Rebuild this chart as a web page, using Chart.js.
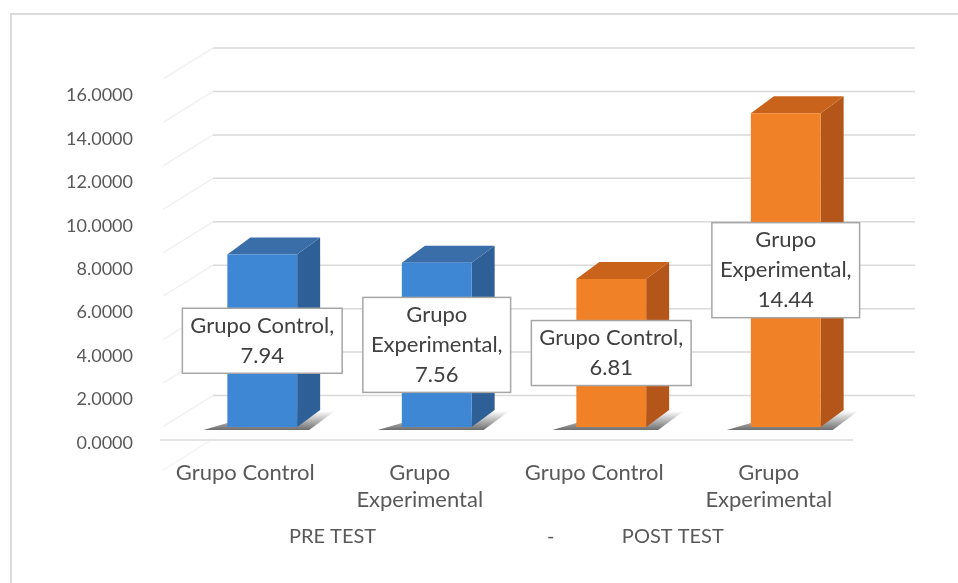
<!DOCTYPE html>
<html>
<head>
<meta charset="utf-8">
<script src="https://cdn.jsdelivr.net/npm/chart.js@4.4.1/dist/chart.umd.min.js"></script>
<style>
  html, body { margin: 0; padding: 0; background: #fff; }
  #wrap { position: relative; width: 958px; height: 583px; overflow: hidden; }
  #frame { position: absolute; left: 10px; top: 13px; width: 1000px; height: 1000px;
           border: 2px solid #dadada; box-sizing: border-box; }
  canvas { position: absolute; left: 0; top: 0; }
</style>
</head>
<body>
<div id="wrap">
  <div id="frame"></div>
  <canvas id="myChart" width="958" height="583"></canvas>
</div>
<script>
// data
const categories = [["Grupo Control"], ["Grupo", "Experimental"], ["Grupo Control"], ["Grupo", "Experimental"]];
const values = [7.94, 7.56, 6.81, 14.44];
const groupLabels = ["PRE TEST", "-", "POST TEST"];
const groupCenters = [0.5, 1.75, 2.45]; // in category units
const yMin = 0;
const yMax = 18;
const yStep = 2;

// colours of the 3d faces
const frontColors = ["#3d87d4", "#3d87d4", "#f08127", "#f08127"];
const topColors = ["#3a6ea9", "#3a6ea9", "#c9631b", "#c9631b"];
const sideColors = ["#2f5f97", "#2f5f97", "#b4561a", "#b4561a"];

const FONT = "Lato, 'Open Sans', sans-serif";
const TEXT = "#595959";

// bar depth and back wall offset
const barDepth = { dx: 23, dy: -17 };
const wallShift = { left: 38, right: 42, down: 12 };

const wallPlugin = {
  id: "wall",
  beforeDatasetsDraw(chart) {
    const ctx = chart.ctx;
    const y = chart.scales.y;
    const area = chart.chartArea;
    const x0 = area.left + wallShift.left;
    const x1 = area.right + wallShift.right;
    ctx.save();
    for (let v = yMin; v <= yMax; v += yStep) {
      const py = y.getPixelForValue(v) + wallShift.down;
      // side wall line
      ctx.strokeStyle = v === yMin ? "#f5f5f5" : "#f1f1f1";
      ctx.lineWidth = 1.5;
      ctx.beginPath();
      ctx.moveTo(x0, py);
      ctx.lineTo(x0 - 50, py + 31);
      ctx.stroke();
      if (v === yMin) continue;
      ctx.strokeStyle = "#d9d9d9";
      ctx.lineWidth = 1.5;
      ctx.beginPath();
      ctx.moveTo(x0, py);
      ctx.lineTo(x1, py);
      ctx.stroke();
    }
    // floor front edge
    const fy = y.getPixelForValue(yMin) + 13;
    ctx.strokeStyle = "#e4e4e4";
    ctx.lineWidth = 2;
    ctx.beginPath();
    ctx.moveTo(area.left - 15, fy);
    ctx.lineTo(area.right - 20, fy);
    ctx.stroke();

    // shadows and 3d faces of the bars
    const meta = chart.getDatasetMeta(0);
    meta.data.forEach((bar, i) => {
      const l = bar.x - bar.width / 2;
      const r = bar.x + bar.width / 2;
      const t = bar.y;
      const b = bar.base;
      const { dx, dy } = barDepth;

      const g = ctx.createLinearGradient(0, b + 4, 0, b - 16);
      g.addColorStop(0, "rgba(0,0,0,0.6)");
      g.addColorStop(1, "rgba(0,0,0,0)");
      ctx.fillStyle = g;
      ctx.beginPath();
      ctx.moveTo(l - 24, b + 3);
      ctx.lineTo(r + 12, b + 3);
      ctx.lineTo(r + dx + 16, b + dy);
      ctx.lineTo(r + dx, b + dy);
      ctx.lineTo(l, b - 4);
      ctx.closePath();
      ctx.fill();

      ctx.fillStyle = sideColors[i];
      ctx.beginPath();
      ctx.moveTo(r, t);
      ctx.lineTo(r + dx, t + dy);
      ctx.lineTo(r + dx, b + dy);
      ctx.lineTo(r, b);
      ctx.closePath();
      ctx.fill();

      ctx.fillStyle = topColors[i];
      ctx.beginPath();
      ctx.moveTo(l, t);
      ctx.lineTo(l + dx, t + dy);
      ctx.lineTo(r + dx, t + dy);
      ctx.lineTo(r, t);
      ctx.closePath();
      ctx.fill();
    });
    ctx.restore();
  },
  afterDatasetsDraw(chart) {
    const ctx = chart.ctx;
    const meta = chart.getDatasetMeta(0);
    ctx.save();
    ctx.font = "22px " + FONT;
    ctx.textAlign = "center";
    ctx.textBaseline = "middle";
    const lineH = 30;
    meta.data.forEach((bar, i) => {
      const lines = categories[i].slice();
      lines[lines.length - 1] += ",";
      lines.push(values[i].toFixed(2));
      const w = Math.max(...lines.map(s => ctx.measureText(s).width)) + 16;
      const h = lines.length * lineH + 5;
      const cx = bar.x;
      const cy = (bar.y + bar.base) / 2;
      ctx.fillStyle = "#ffffff";
      ctx.fillRect(cx - w / 2, cy - h / 2, w, h);
      ctx.strokeStyle = "#a6a6a6";
      ctx.lineWidth = 1.5;
      ctx.strokeRect(cx - w / 2, cy - h / 2, w, h);
      ctx.fillStyle = "#404040";
      lines.forEach((s, k) => {
        ctx.fillText(s, cx, cy - h / 2 + 2.5 + lineH * (k + 0.5));
      });
    });
    ctx.restore();
  },
  afterDraw(chart) {
    const ctx = chart.ctx;
    const x = chart.scales.x;
    ctx.save();
    ctx.font = "20px " + FONT;
    ctx.fillStyle = TEXT;
    ctx.textAlign = "center";
    ctx.textBaseline = "middle";
    groupLabels.forEach((s, i) => {
      ctx.fillText(s, x.getPixelForValue(groupCenters[i]) - 17, 537);
    });
    ctx.restore();
  }
};

const myChart = new Chart(document.getElementById("myChart"), {
  type: "bar",
  data: {
    labels: categories,
    datasets: [{
      data: values,
      backgroundColor: frontColors,
      borderWidth: 0,
      barPercentage: 0.4,
      categoryPercentage: 1
    }]
  },
  options: {
    responsive: false,
    animation: false,
    events: [],
    layout: { padding: { top: 36, right: 85, bottom: 0, left: 0 } },
    plugins: { legend: { display: false }, tooltip: { enabled: false } },
    scales: {
      x: {
        grid: { display: false, drawTicks: false },
        border: { display: false },
        ticks: {
          color: TEXT,
          font: { family: FONT, size: 22, lineHeight: 1.2 },
          padding: 33,
          labelOffset: -17,
          maxRotation: 0,
          autoSkip: false
        },
        afterFit: s => { s.height = 156; s.paddingLeft = 0; s.paddingRight = 0; }
      },
      y: {
        min: yMin,
        max: yMax,
        grid: { display: false, drawTicks: false },
        border: { display: false },
        ticks: {
          stepSize: yStep,
          color: TEXT,
          font: { family: FONT, size: 18 },
          padding: 42,
          labelOffset: 16,
          callback: v => (v === yMax ? "" : v.toFixed(4))
        },
        afterFit: s => { s.width = 175; s.paddingTop = 0; s.paddingBottom = 0; }
      }
    }
  },
  plugins: [wallPlugin]
});
</script>
</body>
</html>
